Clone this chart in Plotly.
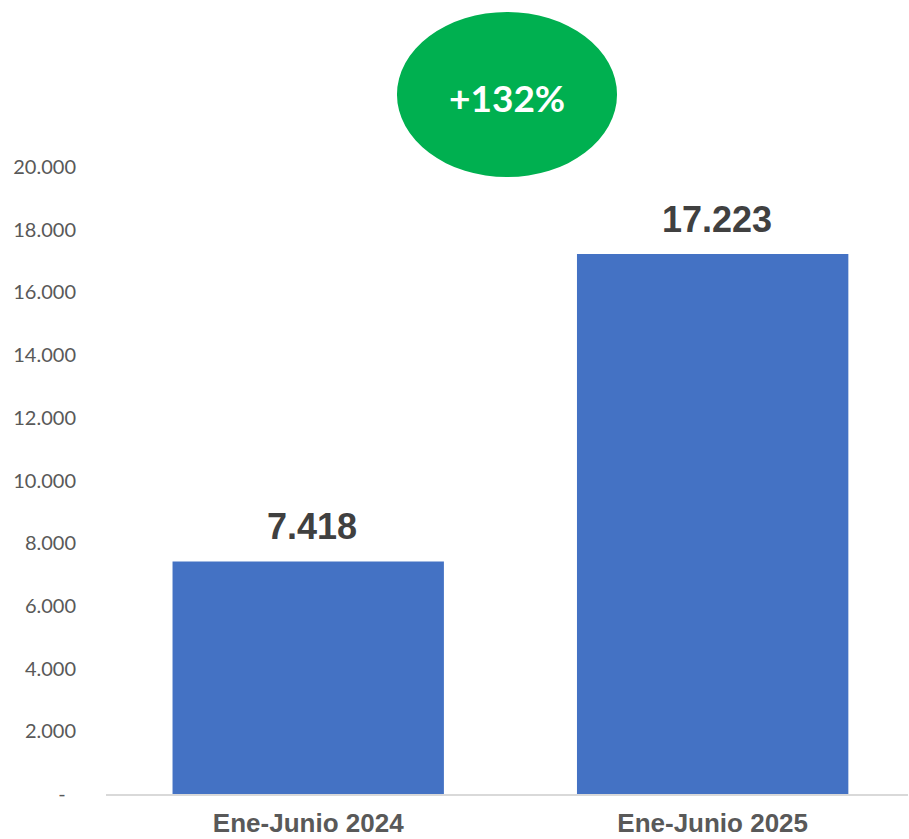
import plotly.graph_objects as go

categories = ["Ene-Junio 2024", "Ene-Junio 2025"]
values = [7418, 17223]
value_labels = ["7.418", "17.223"]
y_ticks = [0, 2000, 4000, 6000, 8000, 10000, 12000, 14000, 16000, 18000, 20000]
y_tick_labels = ["-\u00a0\u00a0", "2.000", "4.000", "6.000", "8.000", "10.000",
                 "12.000", "14.000", "16.000", "18.000", "20.000"]
growth_label = "+132%"

BAR_COLOR = "#4472C4"
GREEN = "#00B050"

fig = go.Figure(
    go.Bar(
        x=categories,
        y=values,
        marker=dict(color=BAR_COLOR, line=dict(width=0)),
        width=0.671,
        hoverinfo="skip",
    )
)

for cat, val, lab in zip(categories, values, value_labels):
    fig.add_annotation(
        x=cat, y=val, xref="x", yref="y",
        text=lab, showarrow=False,
        yanchor="bottom", yshift=12, xshift=4,
        font=dict(family="Liberation Sans, Arial", size=36, color="#404040", weight="bold"),
    )

fig.add_shape(
    type="circle", xref="paper", yref="paper",
    x0=0.3628, x1=0.6372, y0=0.984, y1=1.2472,
    fillcolor=GREEN, line=dict(width=0), layer="above",
)
fig.add_annotation(
    x=0.5, y=1.1116, xref="paper", yref="paper",
    text=growth_label, showarrow=False,
    xanchor="center", yanchor="middle",
    font=dict(family="Lato, Open Sans", size=37, color="white", weight="bold"),
)

fig.update_layout(
    width=909, height=839,
    margin=dict(l=106, r=1, t=167, b=45, autoexpand=False),
    paper_bgcolor="white", plot_bgcolor="white",
    showlegend=False,
    xaxis=dict(
        range=[-0.5, 1.483], automargin=False,
        showline=True, linecolor="#D9D9D9", linewidth=2,
        showgrid=False, zeroline=False, ticks="",
        ticklabelstandoff=5,
        tickfont=dict(family="Liberation Sans, Arial", size=26, color="#595959", weight="bold"),
    ),
    yaxis=dict(
        range=[0, 20000], automargin=False,
        tickmode="array", tickvals=y_ticks, ticktext=y_tick_labels,
        showgrid=False, zeroline=False, showline=False, ticks="",
        ticklabelstandoff=29,
        tickfont=dict(family="Lato, Open Sans", size=20, color="#595959"),
    ),
)

fig.write_html("out.html", config={"displayModeBar": False},
               post_script="document.body.style.margin='0';")
